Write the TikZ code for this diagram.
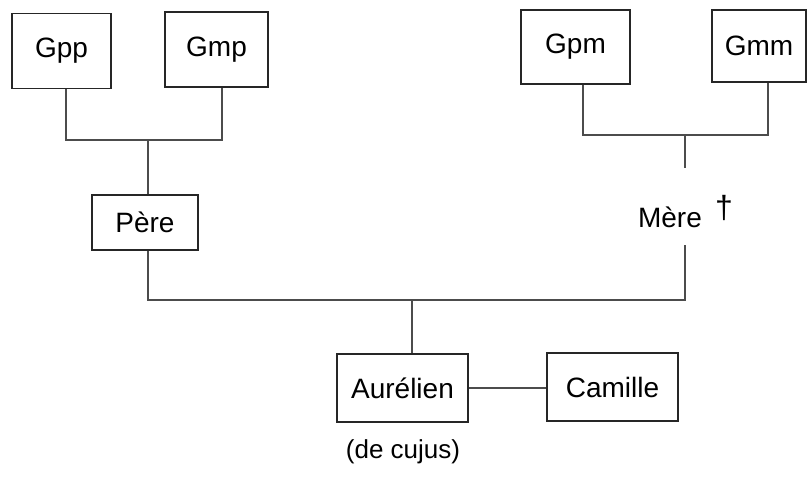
\documentclass[tikz,border=0pt]{standalone}
\usepackage{fontspec}
\setmainfont{Liberation Sans}
\begin{document}
\begin{tikzpicture}[x=1pt,y=-1pt,
  person/.style={draw=black!85, line width=1.3pt, minimum height=#1, inner sep=0pt, font=\fontsize{28}{32}\selectfont},
  person/.default=75pt,
  link/.style={draw=black!70, line width=1.1pt},
  label/.style={inner sep=0pt, font=\fontsize{28}{32}\selectfont}]
\useasboundingbox[fill=white] (0,0) rectangle (807,483);

% grandparents
\node[person, minimum width=99pt] (gpp) at (61.5,51) {Gpp};
\node[person, minimum width=103pt] (gmp) at (216.5,49.5) {Gmp};
\node[person, minimum width=109pt, minimum height=74pt] (gpm) at (575.5,47) {Gpm};
\node[person, minimum width=94pt, minimum height=72pt] (gmm) at (759,46) {Gmm};

% parents
\node[person, minimum width=106pt, minimum height=55pt] (pere) at (145,222.5) {Père};
\node[label] (mere) at (670,217) {Mère};
\node[label, font=\fontsize{32}{36}\selectfont] (croix) at (724,208) {\textdagger};

% subject and sibling
\node[person, minimum width=131pt, minimum height=68pt] (aur) at (402.5,388) {Aurélien};
\node[person, minimum width=131pt, minimum height=68pt] (cam) at (612.5,387) {Camille};
\node[label, font=\fontsize{26}{30}\selectfont] (cujus) at (403,452) {(de cujus)};

% paternal junction
\coordinate (jp) at (148,140);
\draw[link] (gpp.south -| 66,0) |- (jp) -| (gmp.south -| 222,0);
\draw[link] (jp) -- (pere.north -| jp);

% maternal junction
\coordinate (jm) at (685,135);
\draw[link] (gpm.south -| 583,0) |- (jm) -| (gmm.south -| 768,0);
\draw[link] (jm) -- (685,168);

% parents to child
\coordinate (jc) at (412,300);
\draw[link] (pere.south -| jp) |- (jc) -| (685,245);
\draw[link] (jc) -- (aur.north -| jc);

% sibling link
\draw[link] (aur.east) -- (aur.east -| cam.west);
\end{tikzpicture}
\end{document}
